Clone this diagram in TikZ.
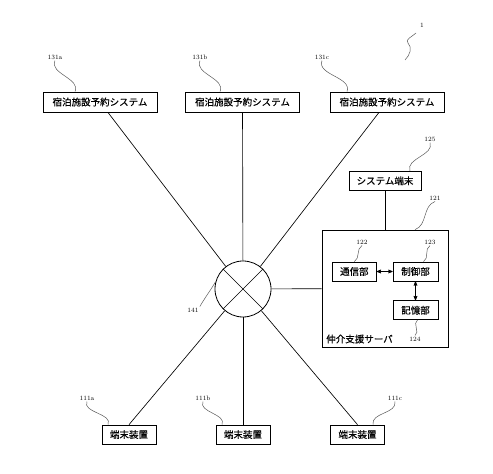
\documentclass[tikz,border=0pt]{standalone}
\usepackage{fontspec}
\newfontfamily\jpfont[FakeBold=0.5]{Noto Sans CJK JP}
\usetikzlibrary{arrows,positioning}

\begin{document}
\begin{tikzpicture}[x=1pt,y=1pt,line width=0.65pt,>=stealth',
  box/.style={draw,rectangle,inner sep=1pt,line width=0.7pt,font=\jpfont\fontsize{9.5}{11}\selectfont},
  sys box/.style={box,minimum width=114pt,minimum height=20pt},
  term box/.style={box,minimum width=54pt,minimum height=19pt},
  unit box/.style={box,minimum width=45pt,minimum height=19pt},
  num/.style={font=\fontsize{6.5}{7}\selectfont,inner sep=1pt},
  wave/.style={draw=black!65,line width=0.5pt}]
  \useasboundingbox (0,0) rectangle (493,474);

  % hub
  \node[draw,circle,minimum size=56pt,line width=0.8pt] (hub) at (243,185) {};
  \draw (hub.north west) -- (hub.south east);
  \draw (hub.north east) -- (hub.south west);

  % reservation systems
  \node[sys box] (s131a) at (100,372) {宿泊施設予約システム};
  \node[sys box] (s131b) at (242.5,372) {宿泊施設予約システム};
  \node[sys box] (s131c) at (387,372) {宿泊施設予約システム};

  % terminals
  \node[term box] (s111a) at (129,39.5) {端末装置};
  \node[term box] (s111b) at (243,39.5) {端末装置};
  \node[term box] (s111c) at (357.5,39.5) {端末装置};

  % server
  \node[box,minimum width=126pt,minimum height=117pt] (s121) at (385,185.5) {};
  \node[box,minimum width=72pt,minimum height=19pt] (s125) [above=39pt of s121] {システム端末};
  \node[unit box] (s123) at (415.5,202.5) {制御部};
  \node[unit box,minimum width=44pt] (s122) [left=16pt of s123] {通信部};
  \node[unit box] (s124) [below=19pt of s123] {記憶部};
  \node[anchor=west,inner sep=0pt,font=\jpfont\fontsize{9.5}{11}\selectfont] (t121) at (326,135) {仲介支援サーバ};

  % reference numbers
  \node[num] (l1) at (422,449) {1};
  \node[num] (l131a) at (55,417) {131a};
  \node[num] (l131b) at (200,417) {131b};
  \node[num] (l131c) at (322,417) {131c};
  \node[num] (l125) at (430,335) {125};
  \node[num] (l121) at (435,276) {121};
  \node[num] (l122) at (362,232) {122};
  \node[num] (l123) at (430,232) {123};
  \node[num] (l124) at (415,135) {124};
  \node[num] (l141) at (193,164) {141};
  \node[num] (l111a) at (87,76) {111a};
  \node[num] (l111b) at (203,76) {111b};
  \node[num] (l111c) at (395,76) {111c};

  \coordinate (c1a) at (416,441);
  \coordinate (c1m) at (408,431);
  \coordinate (c1b) at (405,414);
  \coordinate (e131a) at ([xshift=-25pt]s131a.north);
  \coordinate (e131b) at ([xshift=-22.5pt]s131b.north);
  \coordinate (e131c) at ([xshift=-40pt]s131c.north);
  \coordinate (e125) at ([xshift=25pt]s125.north);
  \coordinate (e121) at ([xshift=30pt]s121.north);
  \coordinate (e123) at ([xshift=8pt]s123.north);
  \coordinate (e124) at ([xshift=2pt]s124.south);
  \coordinate (e111a) at ([xshift=-21pt]s111a.north);
  \coordinate (e111b) at ([xshift=-21pt]s111b.north);
  \coordinate (e111c) at ([xshift=15.5pt]s111c.north);

  % connections
  \draw (s131a) -- (hub);
  \draw (s131b) -- (hub);
  \draw (s131c) -- (hub);
  \draw (s111a.north) -- (hub);
  \draw (s111b.north) -- (hub);
  \draw (s111c.north) -- (hub);
  \draw (hub) -- (s121);
  \draw (s125) -- (s121);
  \draw[<->] (s122) -- (s123);
  \draw[<->] (s123) -- (s124);

  % leader lines
  \draw[wave] (c1a) to[out=-135,in=135] (c1m) to[out=-45,in=45] (c1b);
  \draw[wave] (l131a.south) to[out=-115,in=65] (e131a);
  \draw[wave] (l131b.south) to[out=-115,in=65] (e131b);
  \draw[wave] (l131c.south) to[out=-110,in=70] (e131c);
  \draw[wave] (l125.south) to[out=-70,in=110] (e125);
  \draw[wave] (l121.south) to[out=-160,in=20] (e121);
  \draw[wave] (l122.south) to[out=-150,in=30] (s122.north);
  \draw[wave] (l123.south) to[out=-150,in=30] (e123);
  \draw[wave] (l124.north) to[out=30,in=-150] (e124);
  \draw[wave] (l141.north east) to[out=60,in=-120] (hub.165);
  \draw[wave] (l111a.south) to[out=-115,in=65] (e111a);
  \draw[wave] (l111b.south) to[out=-115,in=65] (e111b);
  \draw[wave] (l111c.south) to[out=-80,in=100] (e111c);
\end{tikzpicture}
\end{document}
